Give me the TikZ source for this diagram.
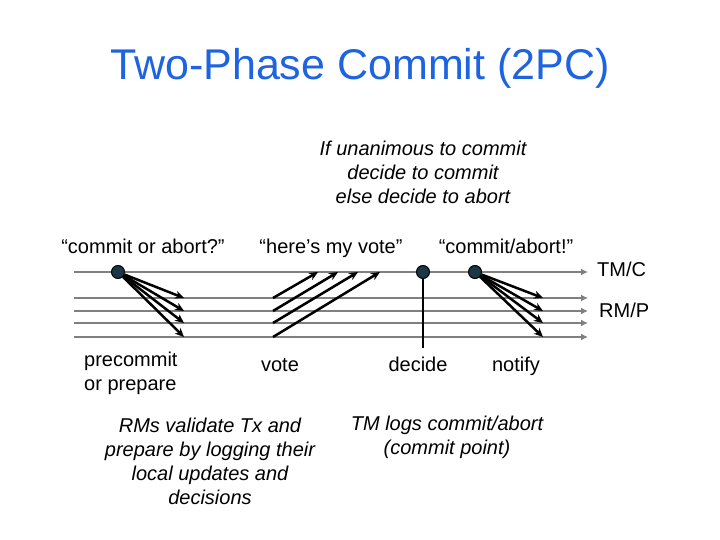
\documentclass[tikz,border=0pt]{standalone}
\usepackage{fontspec}
\setmainfont{Liberation Sans}
\usetikzlibrary{arrows.meta}
\definecolor{titleblue}{RGB}{30,100,225}
\definecolor{dotfill}{RGB}{25,55,70}
\tikzset{
  timeline/.style={draw=gray,line width=2.5pt,-{Latex[length=7pt,width=7pt]}},
  msg/.style={draw=black,line width=2.5pt,-{Stealth[length=9pt,width=8pt]}},
  event/.style={circle,draw=black,fill=dotfill,line width=1pt,minimum size=13pt,inner sep=0pt},
  lbl/.style={font=\fontsize{20}{24}\selectfont,align=center,inner sep=0pt},
  word/.style={lbl,anchor=base},
  note/.style={lbl,font=\fontsize{20}{24}\selectfont\itshape},
  headline/.style={font=\fontsize{43}{50}\selectfont,text=titleblue,inner sep=0pt}
}
\begin{document}
\begin{tikzpicture}[x=1pt,y=-1pt]
  \useasboundingbox (0,0) rectangle (720,540);
  \node[headline] (title) at (360,68) {Two-Phase Commit (2PC)};
  % time lines of TM and RMs
  \foreach \n/\y in {tm/272,rma/298,rmb/311,rmc/323,rmd/337}{
    \coordinate (\n-w) at (74,\y);
    \coordinate (\n-e) at (588,\y);
    \draw[timeline] (\n-w) -- (\n-e);
  }
  \node[word,anchor=base west] (tmc) at (597,276) {TM/C};
  \node[word,anchor=base west] (rmp) at (599,317) {RM/P};
  % events on the TM line
  \coordinate (log) at (423,348);
  \draw[line width=2.5pt] (423,272) -- (log);
  \node[event] (ask) at (118,272) {};
  \node[event] (decide) at (423,272) {};
  \node[event] (notify) at (475,272) {};
  % prepare and notify messages
  \foreach \n/\y in {a/298,b/311,c/323,d/337}{
    \coordinate (p\n) at (184,\y);
    \coordinate (n\n) at (543,\y);
    \draw[msg] (ask) -- (p\n);
    \draw[msg] (notify) -- (n\n);
  }
  % votes
  \foreach \n/\y/\x in {a/298/318,b/311/338,c/323/358,d/337/380}{
    \coordinate (v\n-s) at (273,\y);
    \coordinate (v\n-e) at (\x,272);
    \draw[msg] (v\n-s) -- (v\n-e);
  }
  % labels
  \node[note] (rule) at (423,172) {If unanimous to commit\\decide to commit\\else decide to abort};
  \node[word] (qask) at (143,254) {“commit or abort?”};
  \node[word] (qvote) at (331,254) {“here’s my vote”};
  \node[word] (qdone) at (506,254) {“commit/abort!”};
  \node[lbl,align=left,anchor=west] (prep) at (84,373) {precommit\\or prepare};
  \node[word] (vote) at (280,371) {vote};
  \node[word] (dec) at (418,371) {decide};
  \node[word] (ntf) at (516,371) {notify};
  \node[note] (rmnote) at (210,461) {RMs validate Tx and\\prepare by logging their\\local updates and\\decisions};
  \node[note] (tmnote) at (447,437) {TM logs commit/abort\\(commit point)};
\end{tikzpicture}
\end{document}
